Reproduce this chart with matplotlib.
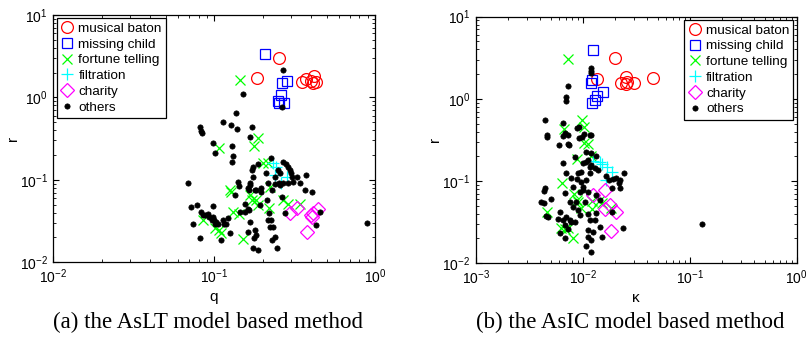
import matplotlib
matplotlib.use("Agg")
import matplotlib.pyplot as plt

plt.rcParams["font.family"] = ["Liberation Sans", "DejaVu Sans"]
plt.rcParams["mathtext.fontset"] = "custom"
plt.rcParams["mathtext.rm"] = "Liberation Sans"
plt.rcParams["mathtext.it"] = "Liberation Sans:italic"

LABELS = ["musical baton", "missing child", "fortune telling", "filtration", "charity", "others"]

# ---- (a) AsLT: q vs r ----
a_baton_q = [0.186, 0.252, 0.354, 0.375, 0.403, 0.418, 0.428, 0.412]
a_baton_r = [1.73, 3.0, 1.52, 1.66, 1.59, 1.83, 1.55, 1.48]
a_child_q = [0.206, 0.284, 0.263, 0.259, 0.250, 0.272, 0.253]
a_child_r = [3.33, 1.59, 1.48, 1.08, 0.91, 0.845, 0.86]
a_fortune_q = [0.144, 0.188, 0.176, 0.108, 0.20, 0.216, 0.224, 0.125, 0.128, 0.167, 0.171, 0.183,
               0.188, 0.22, 0.27, 0.287, 0.34, 0.131, 0.142, 0.085, 0.101, 0.108, 0.111, 0.151]
a_fortune_r = [1.62, 0.32, 0.257, 0.242, 0.159, 0.159, 0.081, 0.0748, 0.071, 0.065, 0.0565, 0.0565,
               0.049, 0.045, 0.0565, 0.051, 0.051, 0.041, 0.038, 0.0323, 0.0257, 0.0244, 0.0224, 0.019]
a_filt_q = [0.232, 0.242, 0.238, 0.285, 0.259]
a_filt_r = [0.159, 0.142, 0.114, 0.108, 0.091]
a_charity_q = [0.295, 0.33, 0.445, 0.41, 0.405, 0.40, 0.38]
a_charity_r = [0.039, 0.045, 0.044, 0.039, 0.035, 0.037, 0.023]
a_other_q = [0.27, 0.265, 0.151, 0.136, 0.113, 0.127, 0.139, 0.171, 0.0815, 0.083, 0.084, 0.168,
             0.099, 0.130, 0.101, 0.131, 0.130, 0.069, 0.226, 0.27, 0.28, 0.287, 0.295, 0.30,
             0.305, 0.31, 0.287, 0.27, 0.255, 0.238, 0.33, 0.34, 0.375, 0.365, 0.405, 0.188,
             0.174, 0.171, 0.174, 0.25, 0.256, 0.14, 0.142, 0.167, 0.165, 0.183, 0.197, 0.23,
             0.212, 0.192, 0.155, 0.165, 0.144, 0.072, 0.078, 0.083, 0.085, 0.092, 0.093, 0.098,
             0.1, 0.103, 0.114, 0.116, 0.122, 0.074, 0.0815, 0.101, 0.125, 0.111, 0.168, 0.163,
             0.179, 0.183, 0.178, 0.174, 0.188, 0.216, 0.226, 0.224, 0.232, 0.24, 0.23, 0.245,
             0.22, 0.197, 0.179, 0.163, 0.167, 0.216, 0.238, 0.256, 0.275, 0.263, 0.134, 0.453,
             0.43, 0.89, 0.106, 0.119, 0.088, 0.097, 0.155, 0.163, 0.099, 0.21]
a_other_r = [2.15, 0.76, 1.10, 0.64, 0.50, 0.46, 0.41, 0.435, 0.435, 0.395, 0.37, 0.33,
             0.28, 0.255, 0.21, 0.195, 0.164, 0.091, 0.183, 0.164, 0.155, 0.142, 0.131, 0.12,
             0.108, 0.093, 0.091, 0.091, 0.091, 0.108, 0.108, 0.091, 0.114, 0.076, 0.071, 0.155,
             0.142, 0.131, 0.108, 0.131, 0.12, 0.093, 0.085, 0.086, 0.076, 0.075, 0.071, 0.075,
             0.0565, 0.049, 0.051, 0.0427, 0.041, 0.0465, 0.049, 0.041, 0.0371, 0.038, 0.035, 0.035,
             0.0323, 0.0305, 0.0323, 0.029, 0.034, 0.029, 0.0195, 0.029, 0.0224, 0.0185, 0.031, 0.023,
             0.0244, 0.0212, 0.0195, 0.0148, 0.014, 0.0323, 0.0323, 0.0266, 0.0266, 0.020, 0.0185, 0.0148,
             0.039, 0.079, 0.075, 0.079, 0.091, 0.091, 0.088, 0.086, 0.039, 0.061, 0.065, 0.041,
             0.0281, 0.030, 0.029, 0.029, 0.0371, 0.0323, 0.041, 0.044, 0.048, 0.12]

# ---- (b) AsIC: kappa vs r ----
b_baton_k = [0.0135, 0.0199, 0.0226, 0.0256, 0.026, 0.0252, 0.030, 0.0454]
b_baton_r = [1.74, 3.14, 1.54, 1.86, 1.62, 1.51, 1.57, 1.81]
b_child_k = [0.0125, 0.0118, 0.0123, 0.0155, 0.0136, 0.0129, 0.0121]
b_child_r = [3.93, 1.54, 1.70, 1.20, 1.08, 0.967, 0.88]
b_fortune_k = [0.0072, 0.0099, 0.0102, 0.00668, 0.0103, 0.0111, 0.00873, 0.0119, 0.00632, 0.00824,
               0.0088, 0.00904, 0.0097, 0.0121, 0.0123, 0.0141, 0.0150, 0.0182, 0.00458, 0.00622,
               0.0068, 0.0073, 0.0081]
b_fortune_r = [3.03, 0.552, 0.457, 0.427, 0.294, 0.282, 0.186, 0.201, 0.095, 0.069,
               0.059, 0.0558, 0.0474, 0.057, 0.0455, 0.057, 0.0533, 0.0474, 0.0418, 0.027,
               0.0257, 0.027, 0.020]
b_filt_k = [0.0125, 0.0144, 0.0150, 0.0168, 0.0187, 0.0166]
b_filt_r = [0.175, 0.168, 0.161, 0.148, 0.128, 0.1025]
b_charity_k = [0.0124, 0.0162, 0.0179, 0.0203, 0.0161, 0.0184]
b_charity_r = [0.067, 0.0768, 0.0516, 0.0421, 0.0455, 0.0249]
b_other_k = [0.0119, 0.0119, 0.0119, 0.00724, 0.00696, 0.0069, 0.00441, 0.00458, 0.00465, 0.00655,
             0.00646, 0.00728, 0.0060, 0.00728, 0.00885, 0.00912, 0.00925, 0.0103, 0.0118, 0.0108,
             0.0120, 0.0134, 0.0112, 0.0101, 0.0120, 0.0130, 0.0116, 0.0090, 0.0164, 0.0176,
             0.0192, 0.0222, 0.0218, 0.0222, 0.0242, 0.00646, 0.00696, 0.0089, 0.0097, 0.0108,
             0.0101, 0.0112, 0.0134, 0.0144, 0.0081, 0.0068, 0.0076, 0.0081, 0.0087, 0.0104,
             0.00441, 0.0043, 0.0050, 0.0045, 0.0047, 0.0041, 0.0043, 0.0061, 0.0058, 0.0070,
             0.0065, 0.0076, 0.0078, 0.0084, 0.0094, 0.0116, 0.0129, 0.0068, 0.0073, 0.0061,
             0.0068, 0.0112, 0.0125, 0.0144, 0.0112, 0.0120, 0.0150, 0.0108, 0.0118, 0.0235,
             0.0189, 0.1315, 0.0068, 0.0074, 0.0106, 0.0116, 0.0097, 0.0077, 0.0101, 0.0094,
             0.0206, 0.0186, 0.0116, 0.0099, 0.0090, 0.0112, 0.0132, 0.0084, 0.0138]
b_other_r = [2.35, 2.20, 2.08, 1.43, 1.04, 0.95, 0.552, 0.366, 0.343, 0.515,
             0.352, 0.363, 0.274, 0.279, 0.437, 0.457, 0.330, 0.376, 0.366, 0.227,
             0.217, 0.201, 0.180, 0.164, 0.156, 0.142, 0.124, 0.124, 0.115, 0.1025,
             0.105, 0.1025, 0.0935, 0.0813, 0.124, 0.167, 0.124, 0.105, 0.098, 0.1025,
             0.0775, 0.074, 0.0673, 0.0585, 0.085, 0.0706, 0.0558, 0.0485, 0.0558, 0.0558,
             0.0813, 0.076, 0.0597, 0.0373, 0.036, 0.0558, 0.0533, 0.0421, 0.0344, 0.0367,
             0.0334, 0.0334, 0.0318, 0.0318, 0.0384, 0.0334, 0.0334, 0.029, 0.0257, 0.0234,
             0.0203, 0.0252, 0.024, 0.0277, 0.0209, 0.019, 0.0209, 0.0161, 0.0137, 0.0265,
             0.0421, 0.0296, 0.380, 0.274, 0.171, 0.149, 0.129, 0.109, 0.085, 0.074,
             0.1075, 0.0813, 0.366, 0.343, 0.0442, 0.040, 0.041, 0.198, 0.136]


def scatter_panel(ax, series, xlim, xlabel, legend_loc):
    styles = [
        dict(marker="o", mfc="none", mec="#ff0000", ms=8.5, mew=0.9),
        dict(marker="s", mfc="none", mec="#0000ff", ms=7, mew=0.9),
        dict(marker="x", color="#00ff00", ms=7, mew=0.9),
        dict(marker="+", color="#00ffff", ms=9, mew=0.9),
        dict(marker="D", mfc="none", mec="#ff00ff", ms=7, mew=0.9),
        dict(marker="o", mfc="black", mec="black", ms=3.8, mew=0.5),
    ]
    for (xs, ys), label, st in zip(series, LABELS, styles):
        ax.plot(xs, ys, linestyle="none", label=label, **st)
    ax.set_xscale("log")
    ax.set_yscale("log")
    ax.set_xlim(*xlim)
    ax.set_ylim(1e-2, 1e1)
    ax.set_xlabel(xlabel, fontsize=11, labelpad=3)
    ax.set_ylabel("r", fontsize=11, labelpad=0)
    ax.tick_params(which="both", direction="in", top=True, right=True, labelsize=10)
    ax.tick_params(which="major", length=4, pad=4)
    ax.tick_params(which="minor", length=2)
    for s in ax.spines.values():
        s.set_linewidth(0.9)
    leg = ax.legend(loc=legend_loc, fontsize=9.7, frameon=True, fancybox=False,
                    framealpha=1, edgecolor="black", borderpad=0.3, labelspacing=0.25,
                    handletextpad=0.3, handlelength=1.0, borderaxespad=0.25)
    leg.get_frame().set_linewidth(0.9)


fig = plt.figure(figsize=(8.08, 3.40), dpi=100)
ax1 = fig.add_axes([0.066, 0.229, 0.398, 0.727])
ax2 = fig.add_axes([0.589, 0.226, 0.397, 0.725])

scatter_panel(ax1, [(a_baton_q, a_baton_r), (a_child_q, a_child_r), (a_fortune_q, a_fortune_r),
                    (a_filt_q, a_filt_r), (a_charity_q, a_charity_r), (a_other_q, a_other_r)],
              (1e-2, 1e0), "q", "upper left")
scatter_panel(ax2, [(b_baton_k, b_baton_r), (b_child_k, b_child_r), (b_fortune_k, b_fortune_r),
                    (b_filt_k, b_filt_r), (b_charity_k, b_charity_r), (b_other_k, b_other_r)],
              (1e-3, 1e0), "κ", "upper right")

fig.text(0.258, 0.035, "(a) the AsLT model based method", ha="center", fontsize=16.5,
         family="Liberation Serif")
fig.text(0.78, 0.035, "(b) the AsIC model based method", ha="center", fontsize=16.5,
         family="Liberation Serif")

fig.savefig("out.png", dpi=100)
